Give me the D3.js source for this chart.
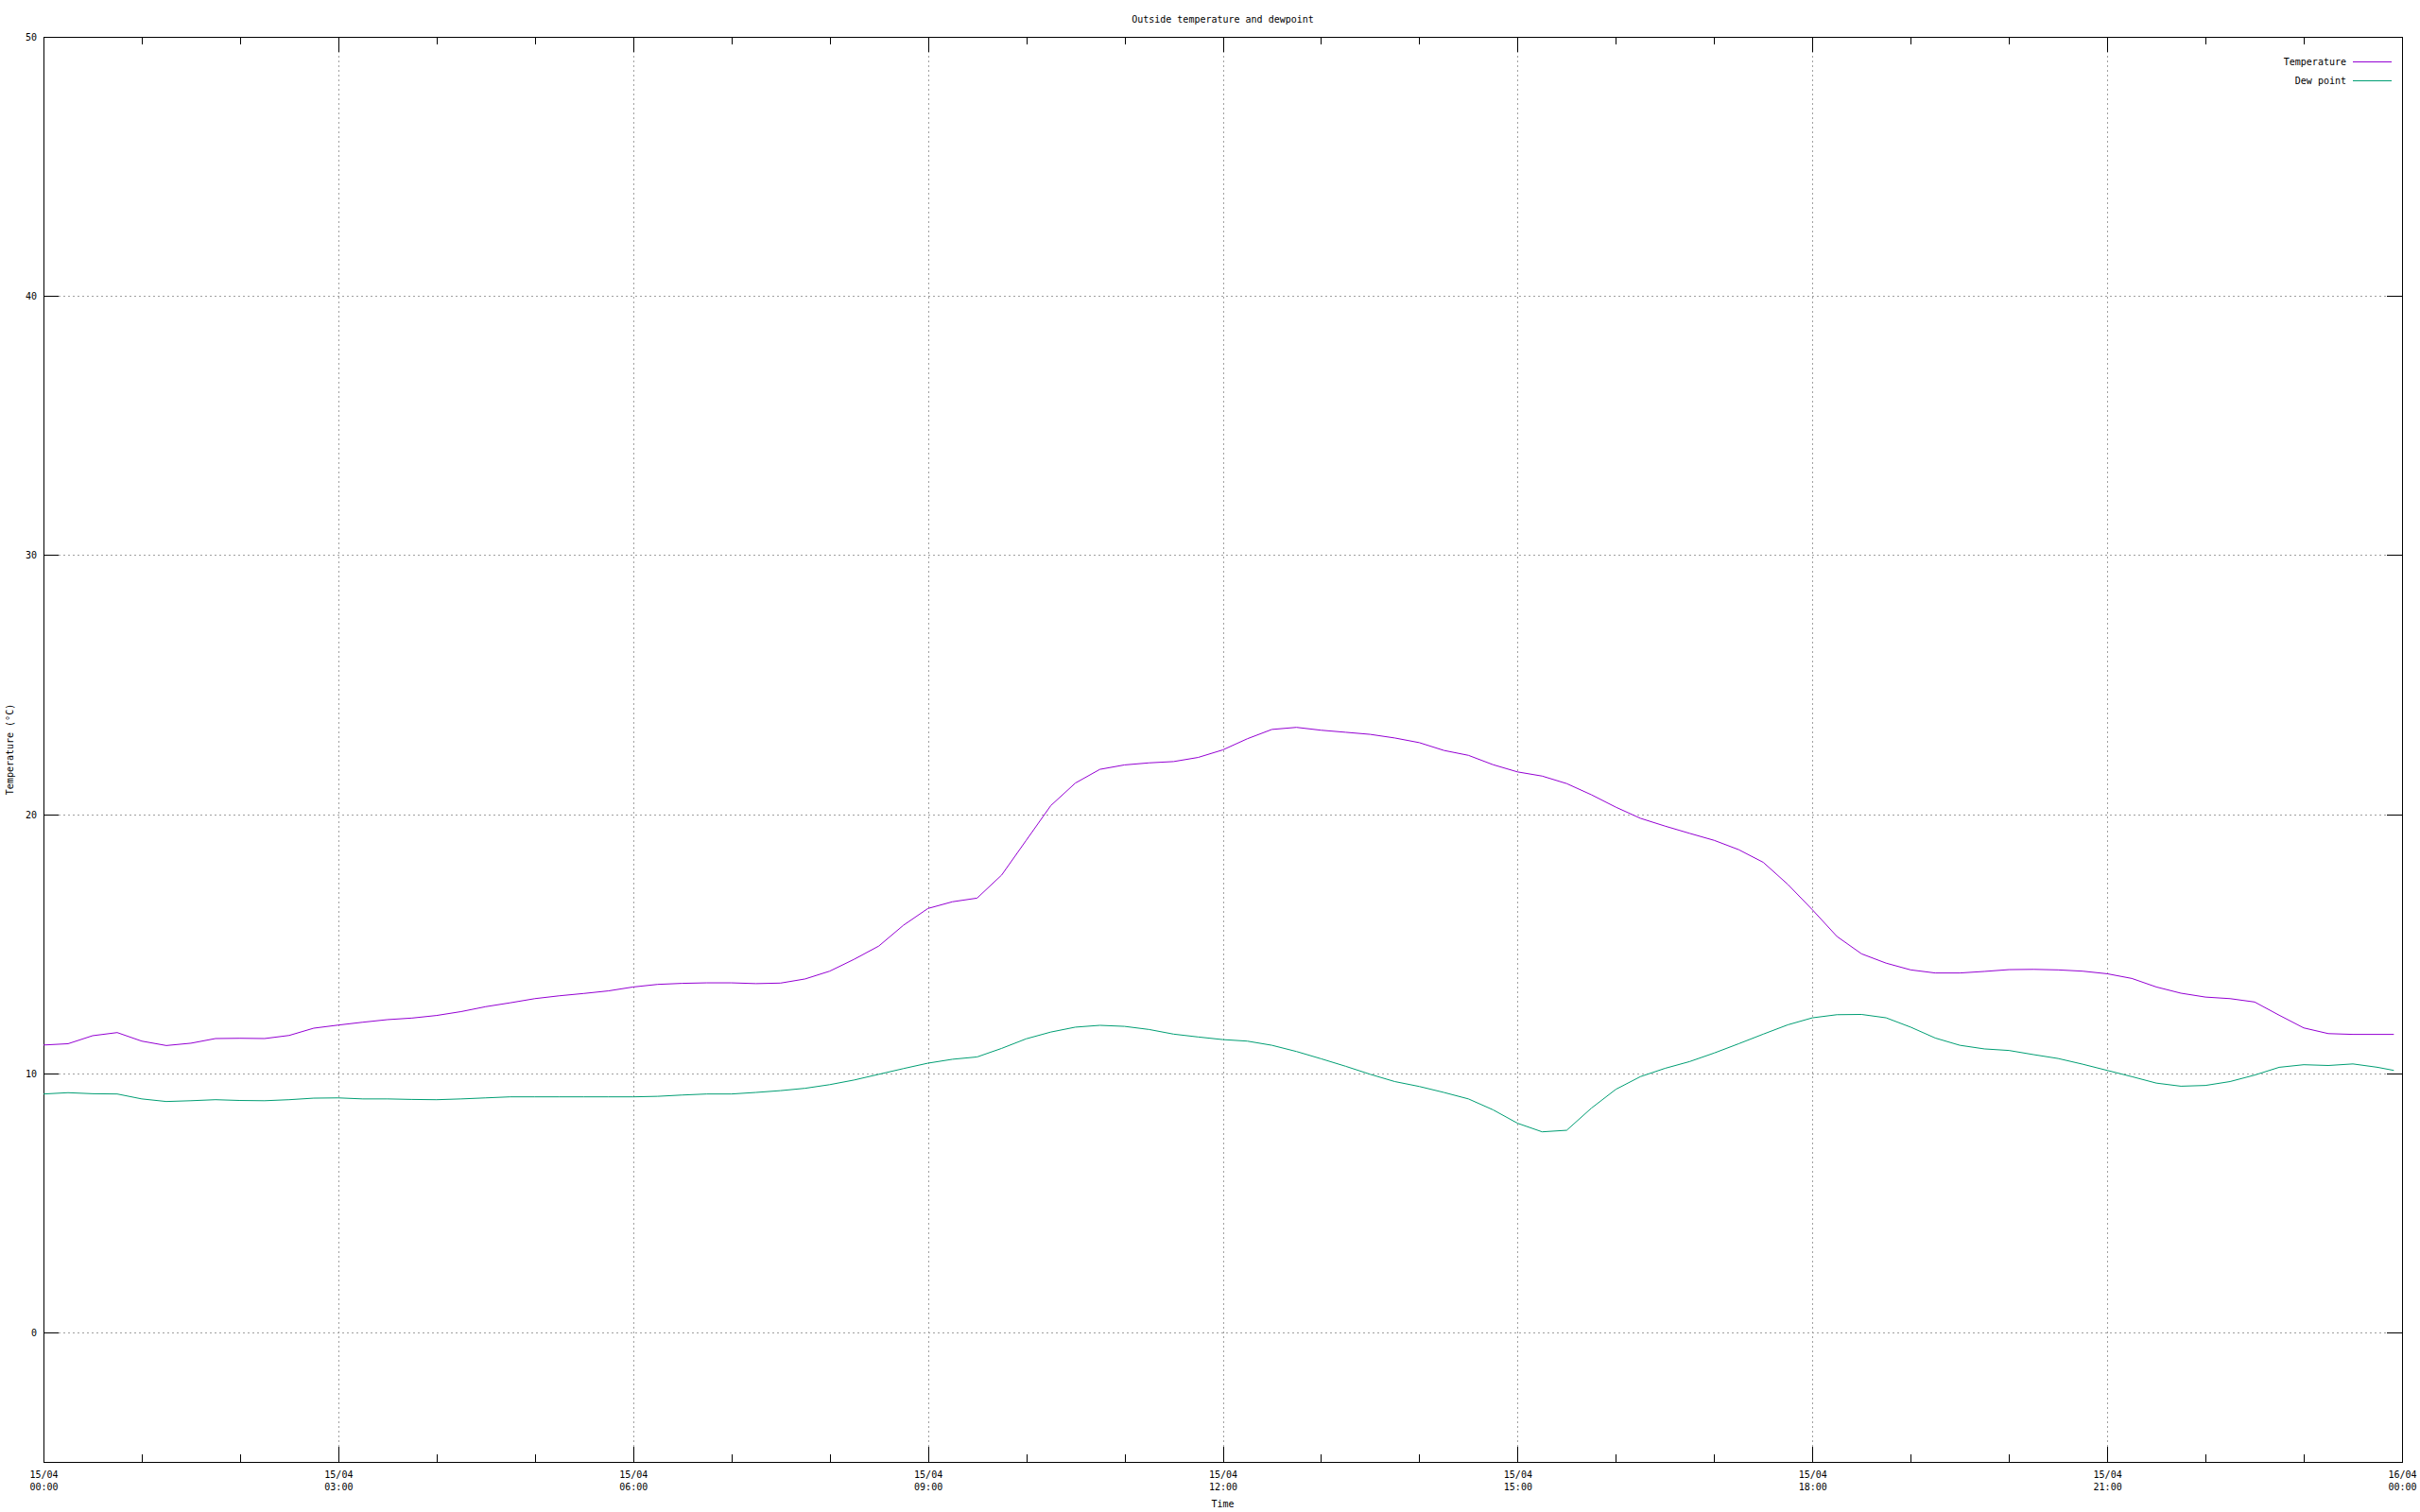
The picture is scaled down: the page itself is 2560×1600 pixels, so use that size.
<!DOCTYPE html>
<html>
<head>
<meta charset="utf-8">
<script src="https://cdn.jsdelivr.net/npm/d3@7"></script>
<style>
  body { margin: 0; background: #fff; }
  text { font-family: "DejaVu Sans Mono", monospace; font-size: 10px; fill: #000; }
</style>
</head>
<body>
<div id="content"></div>
<script>
// readings every 15 minutes on 15/04, last one at 23:55
var times = [
  "00:00","00:15","00:30","00:45","01:00","01:15","01:30","01:45",
  "02:00","02:15","02:30","02:45","03:00","03:15","03:30","03:45",
  "04:00","04:15","04:30","04:45","05:00","05:15","05:30","05:45",
  "06:00","06:15","06:30","06:45","07:00","07:15","07:30","07:45",
  "08:00","08:15","08:30","08:45","09:00","09:15","09:30","09:45",
  "10:00","10:15","10:30","10:45","11:00","11:15","11:30","11:45",
  "12:00","12:15","12:30","12:45","13:00","13:15","13:30","13:45",
  "14:00","14:15","14:30","14:45","15:00","15:15","15:30","15:45",
  "16:00","16:15","16:30","16:45","17:00","17:15","17:30","17:45",
  "18:00","18:15","18:30","18:45","19:00","19:15","19:30","19:45",
  "20:00","20:15","20:30","20:45","21:00","21:15","21:30","21:45",
  "22:00","22:15","22:30","22:45","23:00","23:15","23:30","23:45","23:55"
];
var temperature = [
  11.09,11.14,11.45,11.57,11.24,11.07,11.16,11.34,
  11.35,11.34,11.46,11.74,11.86,11.97,12.07,12.13,
  12.23,12.38,12.57,12.72,12.88,12.99,13.08,13.18,
  13.33,13.43,13.47,13.49,13.49,13.46,13.48,13.64,
  13.94,14.40,14.91,15.71,16.36,16.62,16.76,17.65,
  18.99,20.33,21.20,21.73,21.90,21.98,22.03,22.19,
  22.48,22.91,23.27,23.35,23.24,23.16,23.08,22.94,
  22.76,22.46,22.27,21.91,21.63,21.47,21.18,20.75,
  20.27,19.84,19.54,19.26,18.99,18.63,18.14,17.29,
  16.31,15.28,14.61,14.25,13.99,13.87,13.87,13.93,
  14.00,14.01,13.99,13.94,13.84,13.66,13.33,13.09,
  12.94,12.88,12.75,12.24,11.75,11.53,11.50,11.50,11.50
];
var dewpoint = [
  9.20,9.25,9.21,9.20,9.01,8.91,8.94,8.98,
  8.95,8.94,8.98,9.04,9.05,9.01,9.01,8.99,
  8.98,9.01,9.05,9.09,9.09,9.09,9.09,9.09,
  9.09,9.11,9.16,9.20,9.20,9.26,9.33,9.42,
  9.56,9.74,9.96,10.18,10.39,10.54,10.63,10.96,
  11.33,11.59,11.78,11.85,11.81,11.69,11.51,11.40,
  11.30,11.24,11.08,10.84,10.56,10.27,9.96,9.68,
  9.49,9.26,9.01,8.59,8.07,7.74,7.80,8.65,
  9.38,9.87,10.19,10.45,10.78,11.14,11.51,11.87,
  12.14,12.26,12.27,12.14,11.78,11.36,11.08,10.94,
  10.88,10.72,10.57,10.35,10.11,9.87,9.62,9.50,
  9.53,9.68,9.93,10.23,10.33,10.30,10.36,10.23,10.11
];
var seriesNames = ["Temperature", "Dew point"];
var seriesColors = ["#9400d3", "#009e73"];
var yTicks = [0, 10, 20, 30, 40, 50];

var width = 2560, height = 1600;
var plotL = 46, plotR = 2541, plotT = 39, plotB = 1547;

var svg = d3.select('#content').append('svg')
  .attr('width', width).attr('height', height)
  .style('display', 'block');
svg.append('rect').attr('width', width).attr('height', height).attr('fill', '#fff');

var parse = d3.timeParse('%Y-%m-%d %H:%M');
var start = parse('2024-04-15 00:00'), end = parse('2024-04-16 00:00');

var x = d3.scaleTime().domain([start, end]).range([plotL, plotR]);
var y = d3.scaleLinear().domain([-5, 50]).range([plotB, plotT]);

var majorX = d3.timeHour.every(3).range(start, d3.timeMinute.offset(end, 1));
var minorX = d3.timeHour.every(1).range(start, d3.timeMinute.offset(end, 1));

// grid
var grid = svg.append('g').attr('stroke', '#a0a0a0').attr('stroke-width', 1)
  .attr('stroke-dasharray', '2,3').attr('shape-rendering', 'crispEdges');
grid.selectAll('.vg').data(majorX.slice(1, -1)).enter().append('line')
  .attr('x1', function(d){ return Math.round(x(d)) + 0.5; })
  .attr('x2', function(d){ return Math.round(x(d)) + 0.5; })
  .attr('y1', plotB - 16).attr('y2', plotT + 16);
grid.selectAll('.hg').data(yTicks.filter(function(d){ return d < 50; })).enter().append('line')
  .attr('y1', function(d){ return Math.round(y(d)) + 0.5; })
  .attr('y2', function(d){ return Math.round(y(d)) + 0.5; })
  .attr('x1', plotL + 16).attr('x2', plotR - 16);

// axes (ticks drawn inward, mirrored)
function tidy(g) {
  g.select('.domain').remove();
  g.attr('font-family', null).attr('font-size', null);
  g.selectAll('line').attr('stroke', '#000').attr('shape-rendering', 'crispEdges');
}
var fmtDay = d3.timeFormat('%d/%m'), fmtHour = d3.timeFormat('%H:%M');

var xb = svg.append('g').attr('transform', 'translate(0,' + plotB + ')')
  .call(d3.axisBottom(x).tickValues(minorX).tickSize(-8).tickFormat(''));
tidy(xb);
var xbm = svg.append('g').attr('transform', 'translate(0,' + plotB + ')')
  .call(d3.axisBottom(x).tickValues(majorX).tickSize(-16).tickFormat(''));
tidy(xbm);
xbm.selectAll('.tick text').remove();
xbm.selectAll('.tick').append('text')
  .attr('text-anchor', 'middle')
  .each(function(d){
    var t = d3.select(this);
    t.append('tspan').attr('x', 0).attr('y', 17).text(fmtDay(d));
    t.append('tspan').attr('x', 0).attr('y', 30).text(fmtHour(d));
  });

var xt = svg.append('g').attr('transform', 'translate(0,' + plotT + ')')
  .call(d3.axisTop(x).tickValues(minorX).tickSize(-8).tickFormat(''));
tidy(xt);
var xtm = svg.append('g').attr('transform', 'translate(0,' + plotT + ')')
  .call(d3.axisTop(x).tickValues(majorX).tickSize(-16).tickFormat(''));
tidy(xtm);

var yl = svg.append('g').attr('transform', 'translate(' + plotL + ',0)')
  .call(d3.axisLeft(y).tickValues(yTicks).tickSize(-16).tickPadding(7));
tidy(yl);
yl.selectAll('text').attr('dy', '0.35em').attr('fill', '#000');

var yr = svg.append('g').attr('transform', 'translate(' + plotR + ',0)')
  .call(d3.axisRight(y).tickValues(yTicks).tickSize(-16).tickFormat(''));
tidy(yr);

// border
svg.append('rect')
  .attr('x', plotL + 0.5).attr('y', plotT + 0.5)
  .attr('width', plotR - plotL).attr('height', plotB - plotT)
  .attr('fill', 'none').attr('stroke', '#000').attr('stroke-width', 1)
  .attr('shape-rendering', 'crispEdges');

// lines
var pts = times.map(function(t){ return parse('2024-04-15 ' + t); });
var line = d3.line()
  .x(function(d){ return x(d[0]); })
  .y(function(d){ return y(d[1]); });
[temperature, dewpoint].forEach(function(vals, i){
  svg.append('path')
    .datum(vals.map(function(v, j){ return [pts[j], v]; }))
    .attr('d', line)
    .attr('fill', 'none')
    .attr('stroke', seriesColors[i])
    .attr('stroke-width', 1);
});

// legend
var legend = svg.selectAll('.legend').data(seriesNames).enter().append('g')
  .attr('transform', function(d, i){ return 'translate(0,' + (65.5 + i * 20) + ')'; });
legend.append('text').attr('x', 2482).attr('dy', '0.35em')
  .attr('text-anchor', 'end').text(function(d){ return d; });
legend.append('line').attr('x1', 2489).attr('x2', 2530)
  .attr('stroke', function(d, i){ return seriesColors[i]; })
  .attr('stroke-width', 1).attr('shape-rendering', 'crispEdges');

// titles
svg.append('text').attr('x', (plotL + plotR) / 2).attr('y', 20).attr('dy', '0.35em')
  .attr('text-anchor', 'middle').text('Outside temperature and dewpoint');
svg.append('text').attr('x', (plotL + plotR) / 2).attr('y', 1591).attr('dy', '0.35em')
  .attr('text-anchor', 'middle').text('Time');
svg.append('text')
  .attr('transform', 'translate(10,' + ((plotT + plotB) / 2) + ') rotate(-90)')
  .attr('dy', '0.35em').attr('text-anchor', 'middle').text('Temperature (°C)');
</script>
</body>
</html>
